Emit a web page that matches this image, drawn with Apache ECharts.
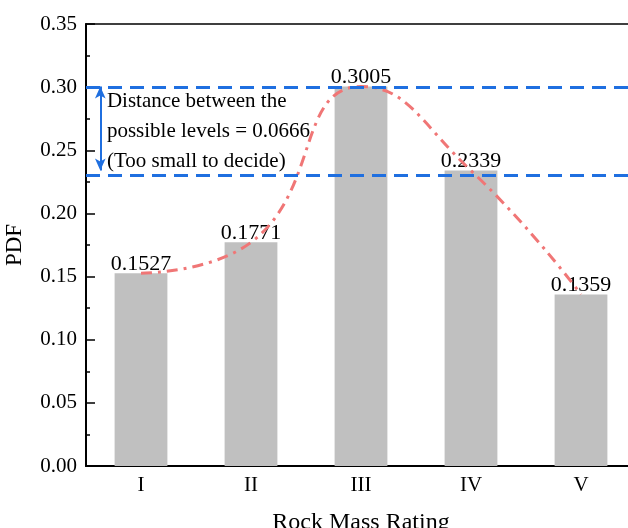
<!DOCTYPE html>
<html>
<head>
<meta charset="utf-8">
<script src="https://cdn.jsdelivr.net/npm/echarts@6/dist/echarts.min.js"></script>
<style>
html, body { margin: 0; padding: 0; background: #fff; }
#chart { width: 628px; height: 528px; }
</style>
</head>
<body>
<div id="chart"></div>
<script>
// 数据
const categories = ['I', 'II', 'III', 'IV', 'V'];
const pdfValues = [0.1527, 0.1771, 0.3005, 0.2339, 0.1359];
const levelLines = [0.3005, 0.2339];
const yTicks = { min: 0, max: 0.35, interval: 0.05 };
const noteLines = ['Distance between the', 'possible levels = 0.0666', '(Too small to decide)'];

const serif = 'Liberation Serif';
const chart = echarts.init(document.getElementById('chart'));

chart.setOption({
    animation: false,
    grid: {
        left: 86, width: 550, top: 24, bottom: 62,
        outerBoundsMode: 'none', containLabel: false,
        show: true, borderColor: '#000', borderWidth: 1.5
    },
    xAxis: [
        {
            type: 'category',
            data: categories,
            name: 'Rock Mass Rating',
            nameLocation: 'middle',
            nameGap: 45,
            nameTextStyle: { fontFamily: serif, fontSize: 24, color: '#000' },
            axisLine: { lineStyle: { color: '#000', width: 2 } },
            axisTick: { alignWithLabel: true, inside: true, length: 9, lineStyle: { color: '#000', width: 1.5 } },
            axisLabel: { fontFamily: serif, fontSize: 21, color: '#000', margin: 9 },
            splitLine: { show: false }
        },
        {
            // 分类边界短刻度
            type: 'category',
            data: categories,
            position: 'bottom',
            axisLine: { show: false },
            axisTick: { inside: true, length: 5, lineStyle: { color: '#000', width: 1.5 } },
            axisLabel: { show: false },
            splitLine: { show: false }
        },
        {
            // 注释用的数值坐标（隐藏）
            type: 'value',
            min: 0,
            max: 5,
            show: false
        }
    ],
    yAxis: {
        type: 'value',
        min: yTicks.min,
        max: yTicks.max,
        interval: yTicks.interval,
        name: 'PDF',
        nameLocation: 'middle',
        nameGap: 60,
        nameTextStyle: { fontFamily: serif, fontSize: 23, color: '#000' },
        axisLine: { show: true, lineStyle: { color: '#000', width: 2 } },
        axisTick: { show: true, inside: true, length: 9, lineStyle: { color: '#000', width: 1.5 } },
        minorTick: { show: true, splitNumber: 2, length: 4, lineStyle: { color: '#000', width: 1.5 } },
        axisLabel: { fontFamily: serif, fontSize: 21, color: '#000', margin: 9, formatter: v => v.toFixed(2) },
        splitLine: { show: false }
    },
    series: [
        {
            type: 'bar',
            data: pdfValues,
            barWidth: '48%',
            itemStyle: { color: '#c0c0c0' },
            label: {
                show: true,
                position: 'top',
                distance: -2,
                fontFamily: serif,
                fontSize: 22,
                color: '#000',
                formatter: p => p.value.toFixed(4)
            },
            z: 2
        },
        {
            type: 'line',
            data: pdfValues,
            smooth: true,
            symbol: 'none',
            lineStyle: { color: '#f07676', width: 3, type: [11, 6, 3, 6] },
            z: 4
        },
        {
            type: 'line',
            xAxisIndex: 2,
            data: [],
            symbol: 'none',
            markLine: {
                silent: true,
                symbol: 'none',
                label: { show: false },
                lineStyle: { color: '#1f6fe0', width: 3, type: [14, 8] },
                data: levelLines.map(v => ({ yAxis: v }))
            },
            z: 5
        },
        {
            type: 'line',
            xAxisIndex: 2,
            data: [],
            symbol: 'none',
            markLine: {
                silent: true,
                symbol: ['arrow', 'arrow'],
                symbolSize: [8, 12],
                label: { show: false },
                lineStyle: { color: '#1f6fe0', width: 2, type: 'solid' },
                data: [[{ coord: [0.13, levelLines[0]] }, { coord: [0.13, levelLines[1]] }]]
            },
            z: 5
        },
        {
            type: 'scatter',
            xAxisIndex: 2,
            symbolSize: 0,
            itemStyle: { opacity: 1 },
            data: [[0.19, levelLines[0]]],
            label: {
                show: true,
                position: [0, 0],
                align: 'left',
                verticalAlign: 'top',
                fontFamily: serif,
                fontSize: 21,
                lineHeight: 30,
                color: '#000',
                opacity: 1,
                formatter: noteLines.join('\n')
            },
            z: 6
        }
    ]
});
</script>
</body>
</html>
